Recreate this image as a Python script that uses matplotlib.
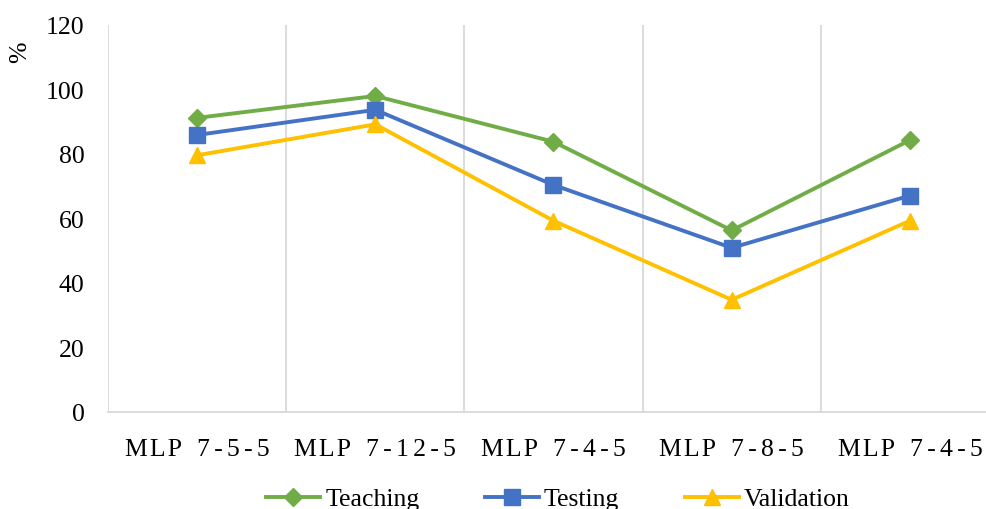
import matplotlib.pyplot as plt

# categories and values
modelos = ["MLP 7-5-5", "MLP 7-12-5", "MLP 7-4-5", "MLP 7-8-5", "MLP 7-4-5"]
teaching = [91.2, 98.0, 83.8, 56.3, 84.3]
testing = [85.9, 93.7, 70.4, 50.9, 67.1]
validation = [79.6, 89.2, 59.3, 34.8, 59.3]

plt.rcParams['font.family'] = ['Liberation Serif', 'DejaVu Serif']

fig = plt.figure(figsize=(9.87, 5.10), dpi=100)
ax = fig.add_axes([108 / 987, (510 - 413) / 510, 891 / 987, 387 / 510])

x = range(len(modelos))
ax.plot(x, teaching, marker='D', markersize=9, linewidth=2.8, color='#70AD47', label='Teaching')
ax.plot(x, testing, marker='s', markersize=11, linewidth=2.8, color='#4472C4', label='Testing')
ax.plot(x, validation, marker='^', markersize=12, linewidth=2.8, color='#FFC000', label='Validation')

ax.set_xlim(-0.5, len(modelos) - 0.5)
ax.set_ylim(0, 120)
ax.set_yticks(range(0, 121, 20))
ax.set_xticks(list(x))


# letter-spaced labels like the original (digits spaced a bit wider)
def espacado(m):
    pre, suf = m.split(' ', 1)
    return '\u200a'.join(pre) + '\u200a\u200a' + '\u200a\u200a'.join(' ' + suf).lstrip('\u200a')


ax.set_xticklabels([espacado(m) for m in modelos], fontsize=18.5)
ax.tick_params(axis='y', labelsize=18.5, length=0, pad=17)
ax.tick_params(axis='x', length=0, pad=18.5)

# vertical lines between categories
for b in range(len(modelos)):
    ax.axvline(b - 0.5, color='#D9D9D9', linewidth=1.3, zorder=0)

for s in ['top', 'right', 'left']:
    ax.spines[s].set_visible(False)
ax.spines['bottom'].set_color('#D9D9D9')
ax.spines['bottom'].set_linewidth(1.3)

fig.text(20 / 987, 1 - 52 / 510, '%', rotation=90, fontsize=18.5, ha='center', va='center')

fig.legend(loc='center', bbox_to_anchor=(558 / 987, 1 - 500 / 510), ncol=3, frameon=False,
           fontsize=18.5, handlelength=2.1, columnspacing=2.55, handletextpad=0.2)

plt.savefig('out.png', dpi=100)
